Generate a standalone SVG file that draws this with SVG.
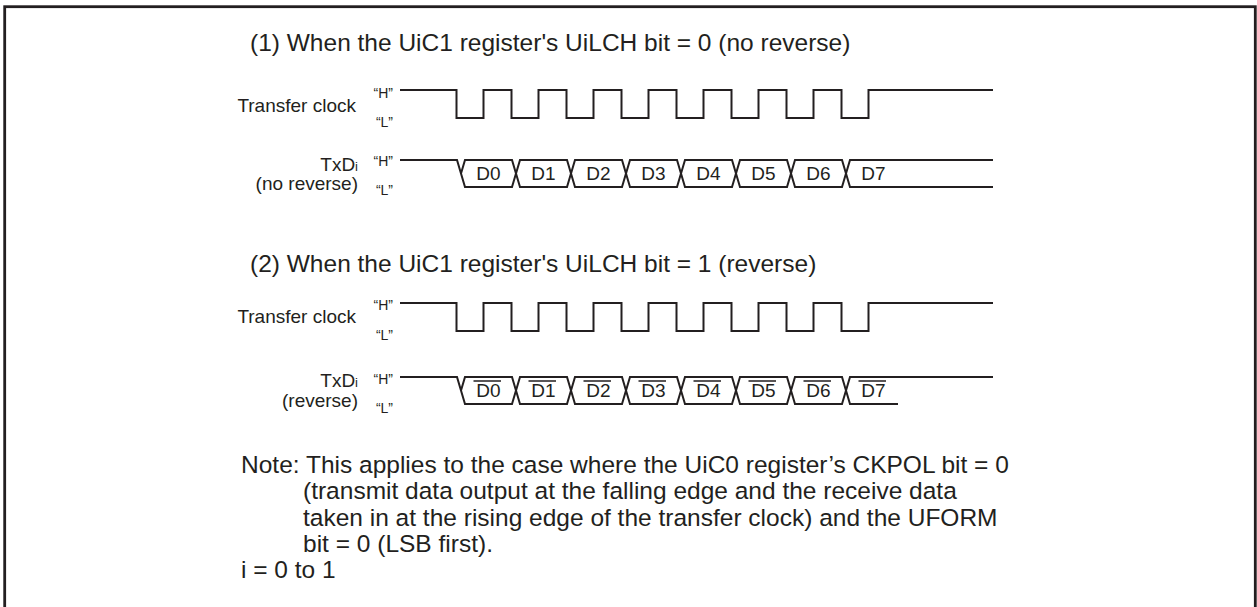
<svg xmlns="http://www.w3.org/2000/svg" width="1257" height="607" viewBox="0 0 1257 607">
<style>
text{font-family:"Liberation Sans",Arial,sans-serif;fill:#231f20}
.t{font-size:24.5px}
.lb{font-size:19px}
.q{font-size:14px;text-anchor:end}
.e{text-anchor:end}
.m{text-anchor:middle}
.w{fill:none;stroke:#231f20;stroke-width:2}
.o{stroke:#231f20;stroke-width:1.5}
</style>
<rect x="4.7" y="6.7" width="1250.6" height="640" fill="#fff" stroke="#231f20" stroke-width="2.8"/>
<g id="title1"><text class="t" x="250" y="51">(1) When the UiC1 register's UiLCH bit = 0 (no reverse)</text></g>
<g id="clock1">
<text class="lb e" x="356" y="112">Transfer clock</text>
<text class="q" x="393" y="98">“H”</text>
<text class="q" x="393" y="127">“L”</text>
<path class="w" d="M400,90 H456.5 V118 H483.5 V90 H511.5 V118 H538.5 V90 H566.5 V118 H593.5 V90 H621.5 V118 H648.5 V90 H676.5 V118 H703.5 V90 H731.5 V118 H758.5 V90 H786.5 V118 H813.5 V90 H841.5 V118 H868.5 V90 H993"/>
</g>
<g id="txd1">
<text class="lb e" x="358" y="171">TxD<tspan font-size="13">i</tspan></text>
<text class="lb e" x="358" y="190">(no reverse)</text>
<text class="q" x="393" y="166">“H”</text>
<text class="q" x="393" y="195">“L”</text>
<path class="w" d="M400,160 L457,160 L465,187 L512,187 L520,160 L567,160 L575,187 L622,187 L630,160 L677,160 L685,187 L732,187 L740,160 L787,160 L795,187 L842,187 L850,160 L993,160"/>
<path class="w" d="M461,173.5 L465,160 L512,160 L520,187 L567,187 L575,160 L622,160 L630,187 L677,187 L685,160 L732,160 L740,187 L787,187 L795,160 L842,160 L850,187 L993,187"/>
<g class="lb m">
<text x="488.5" y="180">D0</text><text x="543.5" y="180">D1</text><text x="598.5" y="180">D2</text><text x="653.5" y="180">D3</text>
<text x="708.5" y="180">D4</text><text x="763.5" y="180">D5</text><text x="818.5" y="180">D6</text><text x="873.5" y="180">D7</text>
</g>
</g>
<g id="title2"><text class="t" x="250" y="272">(2) When the UiC1 register's UiLCH bit = 1 (reverse)</text></g>
<g id="clock2">
<text class="lb e" x="356" y="323">Transfer clock</text>
<text class="q" x="393" y="310">“H”</text>
<text class="q" x="393" y="340">“L”</text>
<path class="w" d="M400,303 H456.5 V331 H483.5 V303 H511.5 V331 H538.5 V303 H566.5 V331 H593.5 V303 H621.5 V331 H648.5 V303 H676.5 V331 H703.5 V303 H731.5 V331 H758.5 V303 H786.5 V331 H813.5 V303 H841.5 V331 H868.5 V303 H993"/>
</g>
<g id="txd2">
<text class="lb e" x="358" y="387">TxD<tspan font-size="13">i</tspan></text>
<text class="lb e" x="358" y="407">(reverse)</text>
<text class="q" x="393" y="384">“H”</text>
<text class="q" x="393" y="413">“L”</text>
<path class="w" d="M400,377 L457,377 L465,404 L512,404 L520,377 L567,377 L575,404 L622,404 L630,377 L677,377 L685,404 L732,404 L740,377 L787,377 L795,404 L842,404 L850,377 L993,377"/>
<path class="w" d="M461,390.5 L465,377 L512,377 L520,404 L567,404 L575,377 L622,377 L630,404 L677,404 L685,377 L732,377 L740,404 L787,404 L795,377 L842,377 L850,404 L898,404"/>
<g class="lb m">
<text x="488.5" y="397">D0</text><text x="543.5" y="397">D1</text><text x="598.5" y="397">D2</text><text x="653.5" y="397">D3</text>
<text x="708.5" y="397">D4</text><text x="763.5" y="397">D5</text><text x="818.5" y="397">D6</text><text x="873.5" y="397">D7</text>
</g>
<path class="o" d="M473.5,381 H501 M528.5,381 H556 M583.5,381 H611 M638.5,381 H666 M693.5,381 H721 M748.5,381 H776 M803.5,381 H831 M858.5,381 H886"/>
</g>
<g id="note" class="t">
<text x="241" y="473">Note: This applies to the case where the UiC0 register’s CKPOL bit = 0</text>
<text x="303" y="499">(transmit data output at the falling edge and the receive data</text>
<text x="303" y="526">taken in at the rising edge of the transfer clock) and the UFORM</text>
<text x="303" y="552">bit = 0 (LSB first).</text>
<text x="241" y="578">i = 0 to 1</text>
</g>
</svg>
